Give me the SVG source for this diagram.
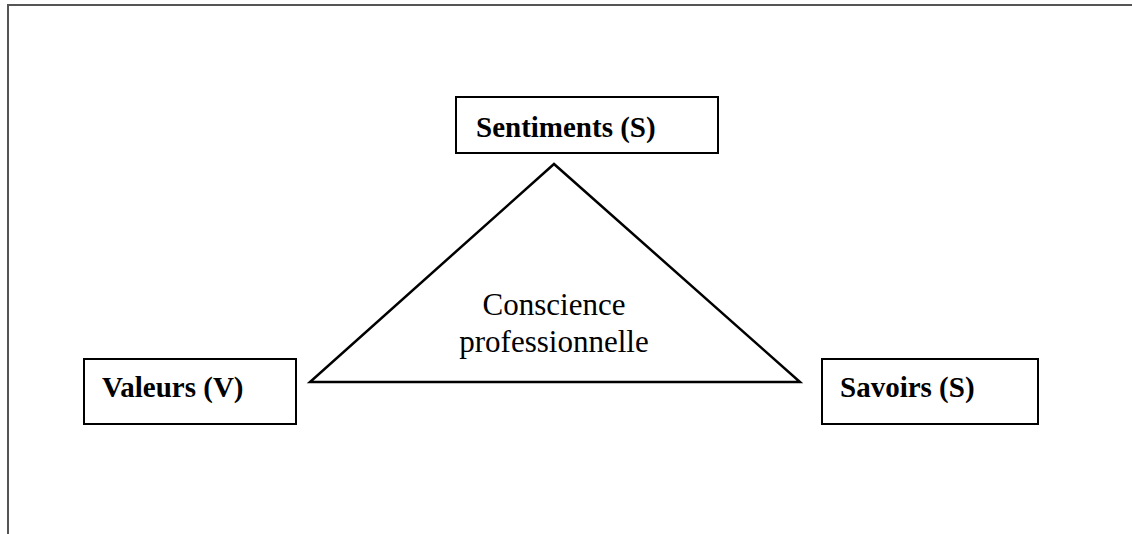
<svg xmlns="http://www.w3.org/2000/svg" width="1132" height="534" viewBox="0 0 1132 534">
<style>
.box{fill:#fff;stroke:#000;stroke-width:2}
.lbl{font-family:"Liberation Serif",serif;font-weight:bold;font-size:29px;fill:#000}
.ctr{font-family:"Liberation Serif",serif;font-size:31px;fill:#000;text-anchor:middle}
</style>
<rect width="1132" height="534" fill="#fff"/>
<g id="frame"><path d="M8 534 V5 H1132" fill="none" stroke="#555" stroke-width="2"/></g>
<g id="connectors"><polygon points="554,164 310,382 800,382" fill="none" stroke="#000" stroke-width="2.5" stroke-linejoin="miter"/></g>
<g id="center"><text class="ctr" x="554" y="315">Conscience</text><text class="ctr" x="554" y="352">professionnelle</text></g>
<g id="sentiments"><rect class="box" x="456" y="97" width="262" height="56"/><text class="lbl" x="476" y="137">Sentiments (S)</text></g>
<g id="valeurs"><rect class="box" x="84" y="359" width="212" height="65"/><text class="lbl" x="102" y="397">Valeurs (V)</text></g>
<g id="savoirs"><rect class="box" x="822" y="359" width="216" height="65"/><text class="lbl" x="840" y="397">Savoirs (S)</text></g>
</svg>
